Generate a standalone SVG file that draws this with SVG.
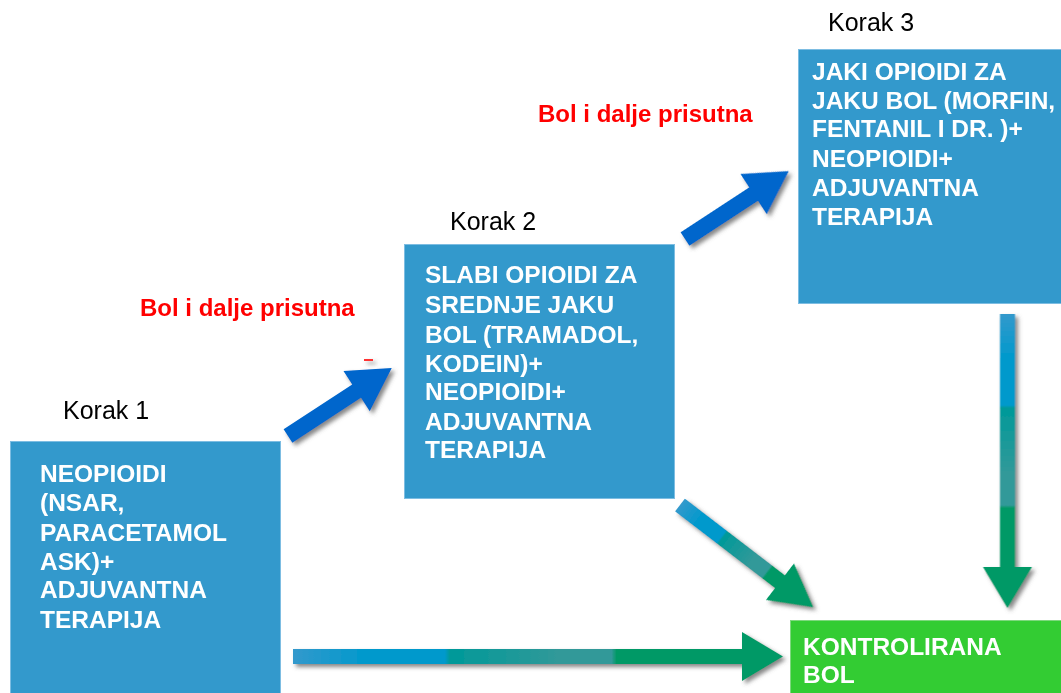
<svg xmlns="http://www.w3.org/2000/svg" width="1061" height="693" viewBox="0 0 1061 693">
<style>
.box{fill:#3399CC;stroke:#7DBDE2;stroke-width:1}
.ok{fill:#33CC33;stroke:#7ED87E;stroke-width:1}
.bt{font-family:"Liberation Sans",Arial,sans-serif;font-weight:bold;font-size:24.5px;fill:#FFFFFF}
.step{font-family:"Liberation Sans",Arial,sans-serif;font-size:25px;fill:#000000}
.red{font-family:"Liberation Sans",Arial,sans-serif;font-weight:bold;font-size:24px;fill:#FF0000}
.blue{fill:#0066CC}
.grad{fill:url(#g)}
</style>
<defs>
<filter id="sh" x="-20%" y="-20%" width="140%" height="140%">
<feDropShadow dx="3" dy="3" stdDeviation="2" flood-color="#555555" flood-opacity="0.7"/>
</filter>
<linearGradient id="g" x1="0" y1="0" x2="1" y2="0">
<stop offset="0" stop-color="#3399CC"/>
<stop offset="0.15" stop-color="#0099CC"/>
<stop offset="0.31" stop-color="#0099CC"/>
<stop offset="0.32" stop-color="#009999"/>
<stop offset="0.55" stop-color="#339999"/>
<stop offset="0.65" stop-color="#339999"/>
<stop offset="0.66" stop-color="#009966"/>
<stop offset="1" stop-color="#009966"/>
</linearGradient>
</defs>

<g id="connectors" filter="url(#sh)">
<path class="blue" transform="translate(288,436) rotate(-33.2)" d="M0,-8 L82,-8 L82,-24 L124,0 L82,24 L82,8 L0,8 Z"/>
<path class="blue" transform="translate(685,239) rotate(-33.2)" d="M0,-8 L82,-8 L82,-24 L124,0 L82,24 L82,8 L0,8 Z"/>
<path class="grad" transform="translate(680,505) rotate(37.5)" d="M0,-8 L126,-8 L126,-23 L168,0 L126,23 L126,8 L0,8 Z"/>
<path class="grad" transform="translate(1007.5,314) rotate(90)" d="M0,-7.5 L253,-7.5 L253,-24.5 L294,0 L253,24.5 L253,7.5 L0,7.5 Z"/>
<path class="grad" transform="translate(293,656.5)" d="M0,-7.5 L449,-7.5 L449,-24.5 L490,0 L449,24.5 L449,7.5 L0,7.5 Z"/>
<rect x="364" y="359" width="9" height="2" fill="#FF3333"/>
</g>

<text class="red" x="140" y="316">Bol i dalje prisutna</text>
<text class="red" x="538" y="122">Bol i dalje prisutna</text>

<g id="step1">
<text class="step" x="63" y="419">Korak 1</text>
<rect class="box" x="10.5" y="441.5" width="270" height="260"/>
<text class="bt" x="40" y="482">NEOPIOIDI</text>
<text class="bt" x="40" y="511">(NSAR,</text>
<text class="bt" x="40" y="541">PARACETAMOL</text>
<text class="bt" x="40" y="570">ASK)+</text>
<text class="bt" x="40" y="598">ADJUVANTNA</text>
<text class="bt" x="40" y="628">TERAPIJA</text>
</g>

<g id="step2">
<text class="step" x="450" y="230">Korak 2</text>
<rect class="box" x="404.5" y="244.5" width="270" height="254"/>
<text class="bt" x="425" y="283">SLABI OPIOIDI ZA</text>
<text class="bt" x="425" y="313">SREDNJE JAKU</text>
<text class="bt" x="425" y="343">BOL (TRAMADOL,</text>
<text class="bt" x="425" y="372">KODEIN)+</text>
<text class="bt" x="425" y="400">NEOPIOIDI+</text>
<text class="bt" x="425" y="430">ADJUVANTNA</text>
<text class="bt" x="425" y="458">TERAPIJA</text>
</g>

<g id="step3">
<text class="step" x="828" y="31">Korak 3</text>
<rect class="box" x="798.5" y="49.5" width="270" height="254"/>
<text class="bt" x="812" y="80">JAKI OPIOIDI ZA</text>
<text class="bt" x="812" y="109">JAKU BOL (MORFIN,</text>
<text class="bt" x="812" y="137">FENTANIL I DR. )+</text>
<text class="bt" x="812" y="167">NEOPIOIDI+</text>
<text class="bt" x="812" y="196">ADJUVANTNA</text>
<text class="bt" x="812" y="225">TERAPIJA</text>
</g>

<g id="controlled">
<rect class="ok" x="790.5" y="620.5" width="280" height="80"/>
<text class="bt" x="803" y="655">KONTROLIRANA</text>
<text class="bt" x="803" y="683">BOL</text>
</g>
</svg>
